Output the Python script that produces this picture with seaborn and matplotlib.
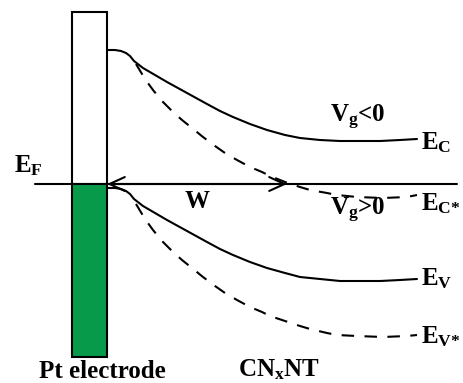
import numpy as np
import pandas as pd
import seaborn as sns
import matplotlib.pyplot as plt

sns.set_theme(style="white")
plt.rcParams["font.family"] = ["Liberation Serif", "DejaVu Serif"]
plt.rcParams["font.weight"] = "bold"
plt.rcParams["mathtext.fontset"] = "custom"
plt.rcParams["mathtext.bf"] = "Liberation Serif:bold"
plt.rcParams["mathtext.rm"] = "Liberation Serif:bold"
plt.rcParams["mathtext.it"] = "Liberation Serif:bold"

# -----------------------------
# Band edges (pixel-like units, y grows downward)
# -----------------------------
ec_x = [107, 115, 121, 126, 130, 134, 143, 155, 167, 187, 207, 220, 233, 250,
        267, 285, 300, 320, 340, 360, 380, 400, 417]
ec_y = [50, 50, 51, 53, 56, 61, 68, 75, 82, 93, 104, 111, 117, 124,
        130, 135, 138, 140, 141, 141, 141, 140, 139]
ev_y = [188, 188, 189, 191, 194, 199, 206, 213, 220, 231, 242, 249, 255, 262,
        268, 273, 277, 279, 281, 281, 281, 280, 279]

ecs_x = [136, 145, 153, 162, 172, 182, 192, 203, 215, 225, 237, 250, 262, 270,
         285, 300, 310, 327, 337, 357, 383, 407, 417]
ecs_y = [64, 79, 90, 101, 111, 120, 128, 137, 146, 153, 160, 167, 172, 176,
         182, 187, 190, 193, 195, 197, 198, 197, 195]
evs_y = [204, 219, 230, 241, 251, 260, 268, 277, 286, 293, 300, 307, 312, 316,
         321, 326, 329, 333, 335, 336, 337, 336, 335]

fermi_level = 184
fermi_span = [35, 457]
w_span = [107, 287]

# electrode: x-centre, width, (top, bottom) of empty and filled parts
electrode_x = 89.5
electrode_w = 35
electrode_empty = (12, 184)
electrode_filled = (184, 357)

fig = plt.figure(figsize=(4.63, 3.83), dpi=100)
ax = fig.add_axes([0, 0, 1, 1])
ax.set_xlim(0, 463)
ax.set_ylim(383, 0)
ax.axis("off")

lw = 1.5
for xs, ys, dashed in [(ec_x, ec_y, False), (ec_x, ev_y, False),
                       (ecs_x, ecs_y, True), (ecs_x, evs_y, True)]:
    d = pd.DataFrame({"x": xs, "y": ys})
    sns.lineplot(data=d, x="x", y="y", ax=ax, color="black", lw=lw,
                 estimator=None, sort=False,
                 linestyle=(0, (6, 5)) if dashed else "-")

# Fermi level
sns.lineplot(x=fermi_span, y=[fermi_level, fermi_level], ax=ax,
             color="black", lw=lw, estimator=None)

# electrode
ax.bar(electrode_x, electrode_empty[1] - electrode_empty[0], width=electrode_w,
       bottom=electrode_empty[0], color="white", edgecolor="black", lw=lw, zorder=3)
ax.bar(electrode_x, electrode_filled[1] - electrode_filled[0], width=electrode_w,
       bottom=electrode_filled[0], color="#079a4a", edgecolor="black", lw=lw, zorder=3)

# depletion width arrow
ax.annotate("", xy=(w_span[0], fermi_level), xytext=(w_span[1], fermi_level),
            arrowprops=dict(arrowstyle="<->, head_length=11, head_width=5",
                            mutation_scale=1, lw=lw, color="black",
                            shrinkA=0, shrinkB=0), zorder=4)

fs = 18
txt = dict(fontsize=fs, fontweight="bold", ha="left", va="baseline", color="black")
ax.text(14, 172, r"$\mathbf{E_F}$", **txt)
ax.text(421, 149, r"$\mathbf{E_C}$", **txt)
ax.text(421, 210, r"$\mathbf{E_{C{*}}}$", **txt)
ax.text(421, 285, r"$\mathbf{E_V}$", **txt)
ax.text(421, 343, r"$\mathbf{E_{V{*}}}$", **txt)
ax.text(330, 122, r"$\mathbf{V_g}$<0", **txt)
ax.text(330, 215, r"$\mathbf{V_g}$>0", **txt)
ax.text(185, 208, "W", **txt)
ax.text(39, 378, "Pt electrode", **txt)
ax.text(238, 376, r"$\mathbf{CN_xNT}$", **txt)

fig.savefig("out.png", dpi=100)
plt.close(fig)
